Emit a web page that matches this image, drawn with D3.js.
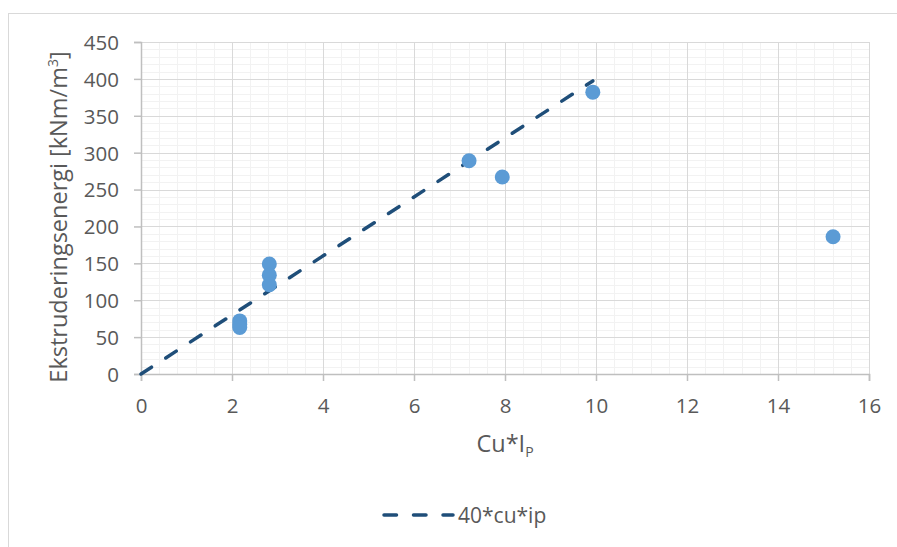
<!DOCTYPE html>
<html>
<head>
<meta charset="utf-8">
<script src="https://cdnjs.cloudflare.com/ajax/libs/d3/7.8.5/d3.min.js"></script>
<style>
  body { margin: 0; background: #fff; }
  svg text { font-family: "Open Sans", sans-serif; fill: #595959; }
</style>
</head>
<body>
<div id="chart"></div>
<script>
// measured points
const pointsX = [2.17, 2.17, 2.17, 2.82, 2.82, 2.82, 7.21, 7.94, 9.93, 15.21];
const pointsY = [72, 67, 63, 149, 134, 121, 289, 267, 382, 186];

// trend line 40*cu*ip over data range
const lineX = [0, 9.93];
const lineY = [0, 397.2];

const xTicks = [0, 2, 4, 6, 8, 10, 12, 14, 16];
const yTicks = [0, 50, 100, 150, 200, 250, 300, 350, 400, 450];
const legendLabel = "40*cu*ip";

const chartWidth = 897, chartHeight = 547;
const plotMargin = {top: 42, right: 28, bottom: 173, left: 141};
const plotWidth = chartWidth - plotMargin.left - plotMargin.right,
      plotHeight = chartHeight - plotMargin.top - plotMargin.bottom;

const svg = d3.select("#chart")
    .append("svg")
    .attr("width", chartWidth)
    .attr("height", chartHeight);

// chart border
svg.append("rect")
    .attr("x", 8.5)
    .attr("y", 13.5)
    .attr("width", 1000)
    .attr("height", 1000)
    .style("fill", "none")
    .style("stroke", "#d9d9d9");

const plot = svg.append("g")
    .attr("transform", "translate(" + plotMargin.left + "," + plotMargin.top + ")");

const xScale = d3.scaleLinear().domain([0, 16]).range([0, plotWidth]);
const yScale = d3.scaleLinear().domain([0, 450]).range([plotHeight, 0]);

function gridLines(values, scale, vertical, colour) {
    plot.append("g")
        .selectAll("line")
        .data(values)
        .join("line")
        .attr(vertical ? "x1" : "y1", d => Math.round(scale(d)) + 0.5)
        .attr(vertical ? "x2" : "y2", d => Math.round(scale(d)) + 0.5)
        .attr(vertical ? "y1" : "x1", 0)
        .attr(vertical ? "y2" : "x2", vertical ? plotHeight : plotWidth)
        .style("stroke", colour);
}

// minor then major grid
gridLines(d3.range(0, 16.001, 0.4), xScale, true, "#f2f2f2");
gridLines(d3.range(0, 450.001, 10), yScale, false, "#f2f2f2");
gridLines(xTicks, xScale, true, "#d9d9d9");
gridLines(yTicks, yScale, false, "#d9d9d9");

// axes
const xAxis = plot.append("g")
    .attr("transform", "translate(0," + plotHeight + ")")
    .call(d3.axisBottom(xScale).tickValues(xTicks).tickSize(7).tickPadding(17).tickFormat(d3.format("d")));

const yAxis = plot.append("g")
    .call(d3.axisLeft(yScale).tickValues(yTicks).tickSize(7).tickPadding(15).tickFormat(d3.format("d")));

[xAxis, yAxis].forEach(function (axis) {
    axis.select(".domain").style("stroke", "#bfbfbf").style("stroke-width", 1.5);
    axis.selectAll(".tick line").style("stroke", "#bfbfbf").style("stroke-width", 1.5);
    axis.selectAll(".tick text")
        .style("font-family", "'Open Sans', sans-serif")
        .style("font-size", "20.5px")
        .style("fill", "#595959");
});
xAxis.selectAll(".tick text").attr("dy", "0.71em");
yAxis.selectAll(".tick text").attr("dy", "0.36em");

// trend line
const lineData = lineX.map((x, i) => ({x: x, y: lineY[i]}));
plot.append("path")
    .datum(lineData)
    .style("stroke", "#1f4e79")
    .style("stroke-width", 3.5)
    .style("stroke-dasharray", "12.5,17")
    .style("stroke-linecap", "round")
    .style("fill", "none")
    .attr("d", d3.line().x(d => xScale(d.x)).y(d => yScale(d.y)));

// points
const pointData = pointsX.map((x, i) => ({x: x, y: pointsY[i]}));
plot.append("g")
    .selectAll("circle")
    .data(pointData)
    .join("circle")
    .attr("cx", d => xScale(d.x))
    .attr("cy", d => yScale(d.y))
    .attr("r", 7.5)
    .style("fill", "#5b9bd5");

// axis titles
const xTitle = svg.append("text")
    .attr("x", 505)
    .attr("y", 452)
    .attr("text-anchor", "middle")
    .style("font-size", "23.5px");
xTitle.append("tspan").text("Cu*I");
xTitle.append("tspan").attr("dy", 5).style("font-size", "14px").text("P");

const yTitle = svg.append("text")
    .attr("transform", "translate(67," + 217 + ") rotate(-90)")
    .attr("text-anchor", "middle")
    .style("font-size", "23.5px");
yTitle.append("tspan").text("Ekstruderingsenergi [kNm/m");
yTitle.append("tspan").attr("dy", -9).style("font-size", "14px").text("3");
yTitle.append("tspan").attr("dy", 9).text("]");

// legend
const legend = svg.append("g").attr("transform", "translate(384,515)");
legend.append("line")
    .attr("x1", 0)
    .attr("x2", 69)
    .attr("y1", 0)
    .attr("y2", 0)
    .style("stroke", "#1f4e79")
    .style("stroke-width", 3.5)
    .style("stroke-dasharray", "12.5,17")
    .style("stroke-linecap", "round");
legend.append("text")
    .attr("x", 74)
    .attr("y", 0)
    .attr("dy", "0.36em")
    .style("font-size", "21px")
    .text(legendLabel);
</script>
</body>
</html>
